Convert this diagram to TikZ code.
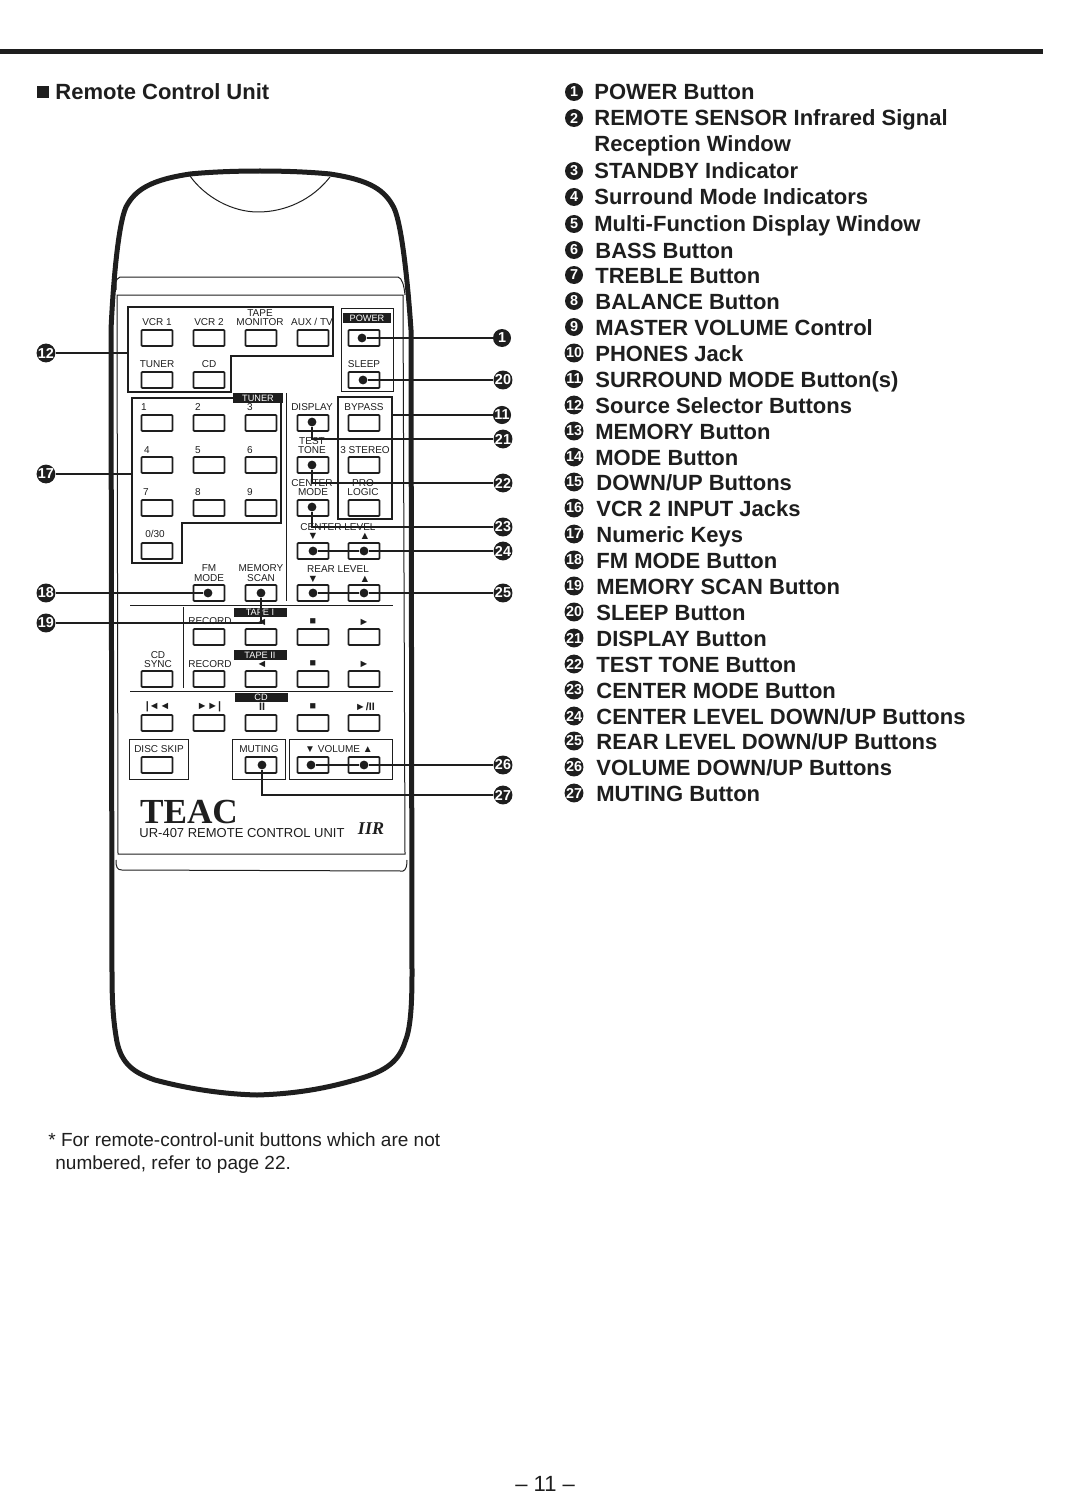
\documentclass[tikz,border=0pt]{standalone}
\usepackage{fontspec}
\setmainfont{Liberation Sans}
\newfontfamily\logofont{Liberation Serif}
\usetikzlibrary{arrows}
\definecolor{ink}{HTML}{1E1E1E}
\tikzset{
    btn/.style={
           rectangle,
           rounded corners=0.4pt,
           draw=ink, line width=0.9pt,
           minimum width=15.5pt,
           minimum height=8pt,
           inner sep=0pt},
    dotb/.style={
           circle,
           fill=ink,
           inner sep=0pt,
           minimum size=4.4pt},
    numb/.style={
           circle,
           fill=ink,
           text=white,
           inner sep=0pt,
           minimum size=9pt,
           font=\fontsize{7.2}{8}\bfseries},
    lbl/.style={
           inner sep=0pt,
           text=ink,
           text height=3.6pt,
           text depth=0pt,
           font=\fontsize{5}{6}\selectfont},
    sym/.style={
           inner sep=0pt,
           text=ink,
           font=\fontsize{5.4}{6}\bfseries},
    bar/.style={
           fill=ink,
           text=white,
           inner sep=0pt,
           minimum height=4.6pt,
           text height=3.2pt,
           text depth=0pt,
           font=\fontsize{4.6}{5}\selectfont},
    itemt/.style={
           anchor=west,
           inner sep=0pt,
           text=ink,
           text height=8pt,
           text depth=0pt,
           font=\fontsize{11}{13}\bfseries},
    foot/.style={
           anchor=west,
           inner sep=0pt,
           text=ink,
           text height=6.5pt,
           text depth=0pt,
           font=\fontsize{9.5}{11}\selectfont},
    lead/.style={draw=ink, line width=0.75pt},
    frame/.style={draw=ink, line width=0.5pt},
    group/.style={draw=ink, line width=1pt}
    }
\begin{document}
\begin{tikzpicture}[x=0.5pt,y=-0.5pt]
      \useasboundingbox (0,0) rectangle (1076,1503);
      % page head
      \fill[ink] (0,49.5) rectangle (1043,54.5);
      \fill[ink] (37,86) rectangle (49,98);
      \node[itemt] (title) at (55,92) {Remote Control Unit};

      % remote case
      \draw[ink,line width=2.5pt,line join=round] (111,330) .. controls (113,285) and (118,225) .. (126,207)
        .. controls (135,190) and (150,180) .. (190,174) .. controls (230,170) and (290,170) .. (330,174)
        .. controls (370,180) and (385,190) .. (394,208) .. controls (402,225) and (408,285) .. (411,330)
        -- (412,973) .. controls (412,1010) and (410,1030) .. (405,1042) .. controls (398,1065) and (380,1073) .. (355,1080)
        .. controls (320,1090) and (290,1094) .. (257,1095) .. controls (220,1094) and (185,1088) .. (155,1080)
        .. controls (135,1073) and (122,1065) .. (117,1042) .. controls (113,1020) and (112,1000) .. (112,973) -- cycle;
      \draw[frame] (190,176) .. controls (205,197) and (232,212) .. (258,212) .. controls (285,212) and (312,200) .. (330,177);
      \draw[frame] (116,290) -- (116,284) .. controls (116,280) and (117,278) .. (120,277) -- (398,277) .. controls (402,278) and (404,285) .. (405,295);
      \draw[frame] (117,295) -- (403,295) -- (405,854) -- (118,854) -- cycle;
      \draw[frame] (116,860) .. controls (116,867) and (117,870) .. (122,870) -- (403,871) .. controls (406,870) and (407,866) .. (407,860);

      % key groups
      \draw[group] (128,307) -- (333,307) -- (333,356) -- (231,356) -- (231,392) -- (128,392) -- cycle;
      \draw[group] (132,398) -- (281,398) -- (281,523) -- (182,523) -- (182,563) -- (132,563) -- cycle;
      \draw[group,line width=0.8pt] (338,397) rectangle (392,519);
      \draw[frame] (341,308) rectangle (393,391);
      \draw[frame] (286,393) -- (286,601);
      \draw[frame] (130,605) -- (393,605);
      \draw[frame] (130,691) -- (393,691);
      \draw[frame] (183,607) -- (183,688);
      \draw[frame] (129,739) rectangle (188,779);
      \draw[frame] (232,739) rectangle (285,779);
      \draw[frame] (289,739) rectangle (392,779);

      % source keys
      \node[lbl] (lvcr1) at (157,322) {VCR 1};
      \node[lbl] (lvcr2) at (209,322) {VCR 2};
      \node[lbl] (ltape) at (260,313) {TAPE};
      \node[lbl] (lmon) at (260,322) {MONITOR};
      \node[lbl] (laux) at (312,322) {AUX / TV};
      \node[lbl] (ltuner) at (157,364) {TUNER};
      \node[lbl] (lcd) at (209,364) {CD};
      \node[btn] (vcr1) at (157,338) {};
      \node[btn] (vcr2) at (209,338) {};
      \node[btn] (mon) at (261,338) {};
      \node[btn] (aux) at (313,338) {};
      \node[btn] (tuner) at (157,380) {};
      \node[btn] (cd) at (209,380) {};

      % power and sleep
      \node[bar,minimum width=24pt] (bpower) at (367,318) {POWER};
      \node[btn] (power) at (364,338) {};
      \node[lbl] (lsleep) at (364,364) {SLEEP};
      \node[btn] (sleep) at (364,380) {};

      % numeric keys
      \node[bar,minimum width=25pt] (bkeys) at (258,398) {TUNER};
      \node[lbl] (l1) at (144,407) {1};
      \node[lbl] (l2) at (198,407) {2};
      \node[lbl] (l3) at (250,407) {3};
      \node[lbl] (l4) at (147,450) {4};
      \node[lbl] (l5) at (198,450) {5};
      \node[lbl] (l6) at (250,450) {6};
      \node[lbl] (l7) at (146,492) {7};
      \node[lbl] (l8) at (198,492) {8};
      \node[lbl] (l9) at (250,492) {9};
      \node[lbl] (l0) at (155,534) {0/30};
      \node[btn] (k1) at (157,423) {};
      \node[btn] (k2) at (209,423) {};
      \node[btn] (k3) at (261,423) {};
      \node[btn] (k4) at (157,465) {};
      \node[btn] (k5) at (209,465) {};
      \node[btn] (k6) at (261,465) {};
      \node[btn] (k7) at (157,508) {};
      \node[btn] (k8) at (209,508) {};
      \node[btn] (k9) at (261,508) {};
      \node[btn] (k0) at (157,551) {};

      % right column
      \node[lbl] (ldisp) at (312,407) {DISPLAY};
      \node[lbl] (lbyp) at (364,407) {BYPASS};
      \node[lbl] (ltest) at (312,441) {TEST};
      \node[lbl] (ltone) at (312,450) {TONE};
      \node[lbl] (lster) at (365,450) {3 STEREO};
      \node[lbl] (lcent) at (312,483) {CENTER};
      \node[lbl] (lmode) at (313,492) {MODE};
      \node[lbl] (lpro) at (363,483) {PRO};
      \node[lbl] (llog) at (363,492) {LOGIC};
      \node[lbl] (lclev) at (338,527) {CENTER LEVEL};
      \node[sym] (acd) at (313,536) {▼};
      \node[sym] (acu) at (365,536) {▲};
      \node[lbl] (lfm) at (209,568) {FM};
      \node[lbl] (lfmm) at (209,578) {MODE};
      \node[lbl] (lmem) at (261,568) {MEMORY};
      \node[lbl] (lscan) at (261,578) {SCAN};
      \node[lbl] (lrlev) at (338,569) {REAR LEVEL};
      \node[sym] (ard) at (313,579) {▼};
      \node[sym] (aru) at (365,579) {▲};
      \node[btn] (disp) at (313,423) {};
      \node[btn] (byp) at (364,423) {};
      \node[btn] (test) at (313,465) {};
      \node[btn] (ster) at (364,465) {};
      \node[btn] (cmode) at (313,508) {};
      \node[btn] (logic) at (364,508) {};
      \node[btn] (cdown) at (313,551) {};
      \node[btn] (cup) at (364,551) {};
      \node[btn] (fm) at (209,593) {};
      \node[btn] (scan) at (261,593) {};
      \node[btn] (rdown) at (313,593) {};
      \node[btn] (rup) at (364,593) {};

      % tape decks
      \node[bar,minimum width=26.5pt] (btape1) at (260,612.5) {TAPE I};
      \node[lbl] (lrec1) at (210,621) {RECORD};
      \node[sym] (srev1) at (262,622) {◄};
      \node[sym] (sstop1) at (313,622) {■};
      \node[sym] (splay1) at (364,622) {►};
      \node[btn] (rec1) at (209,637) {};
      \node[btn] (rev1) at (261,637) {};
      \node[btn] (stop1) at (313,637) {};
      \node[btn] (play1) at (364,637) {};
      \node[bar,minimum width=26.5pt] (btape2) at (260,655) {TAPE II};
      \node[lbl] (lcds) at (158,655) {CD};
      \node[lbl] (lsync) at (158,664) {SYNC};
      \node[lbl] (lrec2) at (210,664) {RECORD};
      \node[sym] (srev2) at (262,664) {◄};
      \node[sym] (sstop2) at (313,664) {■};
      \node[sym] (splay2) at (364,664) {►};
      \node[btn] (sync) at (157,679) {};
      \node[btn] (rec2) at (209,679) {};
      \node[btn] (rev2) at (261,679) {};
      \node[btn] (stop2) at (313,679) {};
      \node[btn] (play2) at (364,679) {};

      % cd row
      \node[bar,minimum width=26.5pt] (bcd) at (261,697.5) {CD};
      \node[sym] (sprev) at (158,707) {|◄◄};
      \node[sym] (snext) at (209,707) {►►|};
      \node[sym] (spause) at (262,707) {II};
      \node[sym] (sstop3) at (313,707) {■};
      \node[sym] (splay3) at (365,707) {►/II};
      \node[btn] (prev) at (157,723) {};
      \node[btn] (next) at (209,723) {};
      \node[btn] (pause) at (261,723) {};
      \node[btn] (stop3) at (313,723) {};
      \node[btn] (play3) at (364,723) {};

      % bottom row
      \node[lbl] (ldisc) at (159,749) {DISC SKIP};
      \node[lbl] (lmut) at (259,749) {MUTING};
      \node[lbl] (lvol) at (339,749) {▼ VOLUME ▲};
      \node[btn] (disc) at (157,765) {};
      \node[btn] (mut) at (261,765) {};
      \node[btn] (vdown) at (313,765) {};
      \node[btn] (vup) at (364,765) {};

      % maker
      \node[inner sep=0pt,text=ink,text height=10.6pt,text depth=0pt,font=\logofont\fontsize{17.6}{18}\bfseries] (teac) at (189,813) {TEAC};
      \node[lbl,font=\fontsize{6.5}{7}\selectfont,text height=4.4pt] (model) at (242,833) {UR-407 REMOTE CONTROL UNIT};
      \node[inner sep=0pt,text=ink,font=\logofont\fontsize{9}{10}\bfseries\itshape] (logo) at (371,829) {IIR};

      % dots on the keys
      \node[dotb] (dpower) at (362,338) {};
      \node[dotb] (dsleep) at (363,380) {};
      \node[dotb] (ddisp) at (312,422) {};
      \node[dotb] (dtest) at (312,465) {};
      \node[dotb] (dcmode) at (312,507) {};
      \node[dotb] (dcdown) at (313,551) {};
      \node[dotb] (dcup) at (364,551) {};
      \node[dotb] (dfm) at (208,593) {};
      \node[dotb] (dscan) at (261,593) {};
      \node[dotb] (drdown) at (313,593) {};
      \node[dotb] (drup) at (364,593) {};
      \node[dotb] (dvdown) at (311,765) {};
      \node[dotb] (dvup) at (364,765) {};
      \node[dotb] (dmut) at (262,765) {};
      \coordinate (gsrc) at (128,353);
      \coordinate (gkeys) at (132,474);
      \coordinate (gsurr) at (392,415);

      % callouts
      \node[numb] (n1) at (502,338) {1};
      \node[numb] (n20) at (503,380) {20};
      \node[numb] (n11) at (502,415) {11};
      \node[numb] (n21) at (503,439) {21};
      \node[numb] (n22) at (503,483) {22};
      \node[numb] (n23) at (503,527) {23};
      \node[numb] (n24) at (503,551) {24};
      \node[numb] (n25) at (503,593) {25};
      \node[numb] (n26) at (503,765) {26};
      \node[numb] (n27) at (503,795) {27};
      \node[numb] (n12) at (46,353) {12};
      \node[numb] (n17) at (46,474) {17};
      \node[numb] (n18) at (46,593) {18};
      \node[numb] (n19) at (46,623) {19};
      \draw[lead] (dpower) -- (n1);
      \draw[lead] (dsleep) -- (n20);
      \draw[lead] (gsurr) -- (n11);
      \draw[lead] (ddisp) |- (n21);
      \draw[lead] (dtest) |- (n22);
      \draw[lead] (dcmode) |- (n23);
      \draw[lead] (dcdown) -- (dcup) -- (n24);
      \draw[lead] (drdown) -- (drup) -- (n25);
      \draw[lead] (dvdown) -- (dvup) -- (n26);
      \draw[lead] (dmut) |- (n27);
      \draw[lead] (n12) -- (gsrc);
      \draw[lead] (n17) -- (gkeys);
      \draw[lead] (n18) -- (dfm);
      \draw[lead] (n19) -| (dscan);

      % key to the numbers
      \node[numb] (i1) at (574,92) {1};
      \node[itemt] (t1) at (594,92) {POWER Button};
      \node[numb] (i2) at (574,118) {2};
      \node[itemt] (t2) at (594,118) {REMOTE SENSOR Infrared Signal};
      \node[itemt] (t2b) at (594,144) {Reception Window};
      \node[numb] (i3) at (574,171) {3};
      \node[itemt] (t3) at (594,171) {STANDBY Indicator};
      \node[numb] (i4) at (574,197) {4};
      \node[itemt] (t4) at (594,197) {Surround Mode Indicators};
      \node[numb] (i5) at (574,224) {5};
      \node[itemt] (t5) at (594,224) {Multi-Function Display Window};
      \node[numb] (i6) at (574,250) {6};
      \node[itemt] (t6) at (595,250) {BASS Button};
      \node[numb] (i7) at (574,275) {7};
      \node[itemt] (t7) at (595,275) {TREBLE Button};
      \node[numb] (i8) at (574,301) {8};
      \node[itemt] (t8) at (595,301) {BALANCE Button};
      \node[numb] (i9) at (574,327) {9};
      \node[itemt] (t9) at (595,327) {MASTER VOLUME Control};
      \node[numb] (i10) at (574,353) {10};
      \node[itemt] (t10) at (595,353) {PHONES Jack};
      \node[numb] (i11) at (574,379) {11};
      \node[itemt] (t11) at (595,379) {SURROUND MODE Button(s)};
      \node[numb] (i12) at (574,405) {12};
      \node[itemt] (t12) at (595,405) {Source Selector Buttons};
      \node[numb] (i13) at (574,431) {13};
      \node[itemt] (t13) at (595,431) {MEMORY Button};
      \node[numb] (i14) at (574,457) {14};
      \node[itemt] (t14) at (595,457) {MODE Button};
      \node[numb] (i15) at (574,482) {15};
      \node[itemt] (t15) at (596,482) {DOWN/UP Buttons};
      \node[numb] (i16) at (574,508) {16};
      \node[itemt] (t16) at (596,508) {VCR 2 INPUT Jacks};
      \node[numb] (i17) at (574,534) {17};
      \node[itemt] (t17) at (596,534) {Numeric Keys};
      \node[numb] (i18) at (574,560) {18};
      \node[itemt] (t18) at (596,560) {FM MODE Button};
      \node[numb] (i19) at (574,586) {19};
      \node[itemt] (t19) at (596,586) {MEMORY SCAN Button};
      \node[numb] (i20) at (574,612) {20};
      \node[itemt] (t20) at (596,612) {SLEEP Button};
      \node[numb] (i21) at (574,638) {21};
      \node[itemt] (t21) at (596,638) {DISPLAY Button};
      \node[numb] (i22) at (574,664) {22};
      \node[itemt] (t22) at (596,664) {TEST TONE Button};
      \node[numb] (i23) at (574,690) {23};
      \node[itemt] (t23) at (596,690) {CENTER MODE Button};
      \node[numb] (i24) at (574,716) {24};
      \node[itemt] (t24) at (596,716) {CENTER LEVEL DOWN/UP Buttons};
      \node[numb] (i25) at (574,741) {25};
      \node[itemt] (t25) at (596,741) {REAR LEVEL DOWN/UP Buttons};
      \node[numb] (i26) at (574,767) {26};
      \node[itemt] (t26) at (596,767) {VOLUME DOWN/UP Buttons};
      \node[numb] (i27) at (574,793) {27};
      \node[itemt] (t27) at (596,793) {MUTING Button};

      % foot of page
      \node[foot] (f1) at (48,1140) {* For remote-control-unit buttons which are not};
      \node[foot] (f2) at (55,1163) {numbered, refer to page 22.};
      \node[foot,font=\fontsize{11}{13}\selectfont] (pageno) at (515,1485) {– 11 –};
     \end{tikzpicture}
\end{document}
